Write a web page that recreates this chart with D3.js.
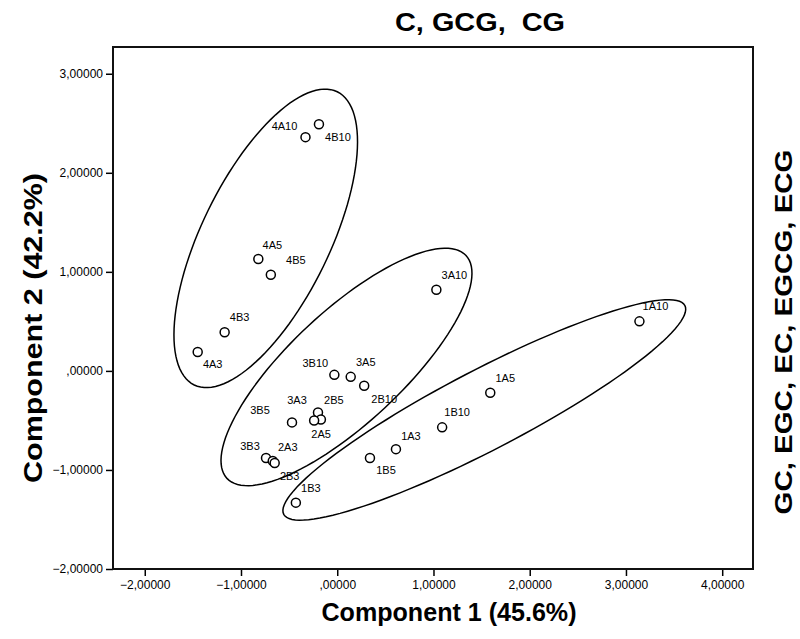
<!DOCTYPE html>
<html>
<head>
<meta charset="utf-8">
<script src="https://cdn.jsdelivr.net/npm/d3@7"></script>
<style>
  body { margin: 0; background: #fff; }
  text { font-family: "Liberation Sans", Arial, sans-serif; fill: #000; }
</style>
</head>
<body>
<script>
// sample labels and PCA scores
var names = ["4A10", "4B10", "4A5", "4B5", "4B3", "4A3",
             "3A10", "3B10", "3A5", "2B10", "3B5", "3A3", "2B5", "2A5",
             "3B3", "2A3", "2B3", "1B3", "1B5", "1A3", "1B10", "1A5", "1A10"];
var comp1 = [-0.33, -0.19, -0.82, -0.69, -1.17, -1.45,
             1.03, -0.03, 0.14, 0.28, -0.47, -0.20, -0.17, -0.24,
             -0.74, -0.67, -0.65, -0.43, 0.34, 0.61, 1.09, 1.59, 3.14];
var comp2 = [2.36, 2.49, 1.13, 0.97, 0.39, 0.19,
             0.82, -0.04, -0.06, -0.15, -0.52, -0.42, -0.49, -0.50,
             -0.88, -0.91, -0.93, -1.33, -0.88, -0.79, -0.57, -0.22, 0.50];

// group ellipses: centre, major and minor half-axis vectors (data units)
var ellipseCenter = [[-0.743, 1.338], [0.096, 0.040], [1.528, -0.394]];
var ellipseMajor  = [[0.743, 1.480], [1.242, 1.125], [2.084, 1.054]];
var ellipseMinor  = [[0.598, -0.284], [0.397, -0.414], [0.192, -0.358]];

var xTicks = [-2, -1, 0, 1, 2, 3, 4];
var yTicks = [-2, -1, 0, 1, 2, 3];

// label placement relative to each point (px)
var labelOffset = [[-21, -11], [19, 13], [14, -14], [25, -15], [15, -15], [15, 12],
                   [18, -15], [-19, -12], [15, -15], [20, 13], [-32, -12], [-21, -12], [13, -19], [7, 14],
                   [-16, -12], [15, -14], [15, 13], [15, -15], [16, 12], [15, -13], [15, -15], [15, -15], [16, -15]];

var width = 800, height = 639;
var frame = { left: 113, right: 753, top: 47, bottom: 569 };

var svg = d3.select("body").append("svg")
    .attr("width", width)
    .attr("height", height);

var x = d3.scaleLinear().domain([-2.33, 4.32]).range([frame.left, frame.right]);
var y = d3.scaleLinear().domain([-2, 3.27]).range([frame.bottom, frame.top]);

function fmt(v) {
    return d3.format(".5f")(v).replace(".", ",").replace(/^(-?)0,/, "$1,");
}

// axes
var xAxis = svg.append("g")
    .attr("transform", "translate(0," + frame.bottom + ")")
    .call(d3.axisBottom(x).tickValues(xTicks).tickSize(7).tickPadding(4).tickFormat(fmt));
var yAxis = svg.append("g")
    .attr("transform", "translate(" + frame.left + ",0)")
    .call(d3.axisLeft(y).tickValues(yTicks).tickSize(7).tickPadding(3).tickFormat(fmt));

[xAxis, yAxis].forEach(function (g) {
    g.select(".domain").remove();
    g.selectAll(".tick line").attr("stroke", "#000").attr("stroke-width", 1.5);
    g.selectAll(".tick text")
        .style("font-family", "'Liberation Sans', Arial, sans-serif")
        .style("font-size", "12px")
        .attr("fill", "#000");
});

svg.append("rect")
    .attr("x", frame.left)
    .attr("y", frame.top)
    .attr("width", frame.right - frame.left)
    .attr("height", frame.bottom - frame.top)
    .attr("fill", "none")
    .attr("stroke", "#111")
    .attr("stroke-width", 2);

// ellipses
var steps = d3.range(0, 120).map(function (i) { return i / 120 * 2 * Math.PI; });
var line = d3.line()
    .x(function (d) { return x(d[0]); })
    .y(function (d) { return y(d[1]); })
    .curve(d3.curveLinearClosed);

ellipseCenter.forEach(function (c, k) {
    var a = ellipseMajor[k], b = ellipseMinor[k];
    var pts = steps.map(function (t) {
        return [c[0] + a[0] * Math.cos(t) + b[0] * Math.sin(t),
                c[1] + a[1] * Math.cos(t) + b[1] * Math.sin(t)];
    });
    svg.append("path")
        .attr("d", line(pts))
        .attr("fill", "none")
        .attr("stroke", "#000")
        .attr("stroke-width", 1.5);
});

// points
var data = names.map(function (n, i) {
    return { name: n, c1: comp1[i], c2: comp2[i], off: labelOffset[i] };
});

svg.selectAll("circle.pt")
    .data(data)
    .enter().append("circle")
    .attr("class", "pt")
    .attr("cx", function (d) { return x(d.c1); })
    .attr("cy", function (d) { return y(d.c2); })
    .attr("r", 4.5)
    .attr("fill", "#fff")
    .attr("stroke", "#000")
    .attr("stroke-width", 1.5);

svg.selectAll("text.lbl")
    .data(data)
    .enter().append("text")
    .attr("class", "lbl")
    .attr("x", function (d) { return x(d.c1) + d.off[0]; })
    .attr("y", function (d) { return y(d.c2) + d.off[1]; })
    .attr("text-anchor", "middle")
    .attr("dominant-baseline", "central")
    .style("font-size", "11px")
    .text(function (d) { return d.name; });

// titles
svg.append("text")
    .attr("x", 480)
    .attr("y", 31)
    .attr("text-anchor", "middle")
    .attr("textLength", 170)
    .attr("lengthAdjust", "spacingAndGlyphs")
    .style("font-size", "25px")
    .style("font-weight", "bold")
    .style("white-space", "pre")
    .text("C, GCG,  CG");

svg.append("text")
    .attr("x", 449)
    .attr("y", 621)
    .attr("text-anchor", "middle")
    .attr("textLength", 255)
    .attr("lengthAdjust", "spacingAndGlyphs")
    .style("font-size", "26px")
    .style("font-weight", "bold")
    .text("Component 1 (45.6%)");

svg.append("text")
    .attr("transform", "translate(42,328) rotate(-90)")
    .attr("text-anchor", "middle")
    .attr("textLength", 310)
    .attr("lengthAdjust", "spacingAndGlyphs")
    .style("font-size", "26px")
    .style("font-weight", "bold")
    .text("Component 2 (42.2%)");

svg.append("text")
    .attr("transform", "translate(792,332) rotate(-90)")
    .attr("text-anchor", "middle")
    .attr("textLength", 365)
    .attr("lengthAdjust", "spacingAndGlyphs")
    .style("font-size", "24px")
    .style("font-weight", "bold")
    .text("GC, EGC, EC, EGCG, ECG");
</script>
</body>
</html>
